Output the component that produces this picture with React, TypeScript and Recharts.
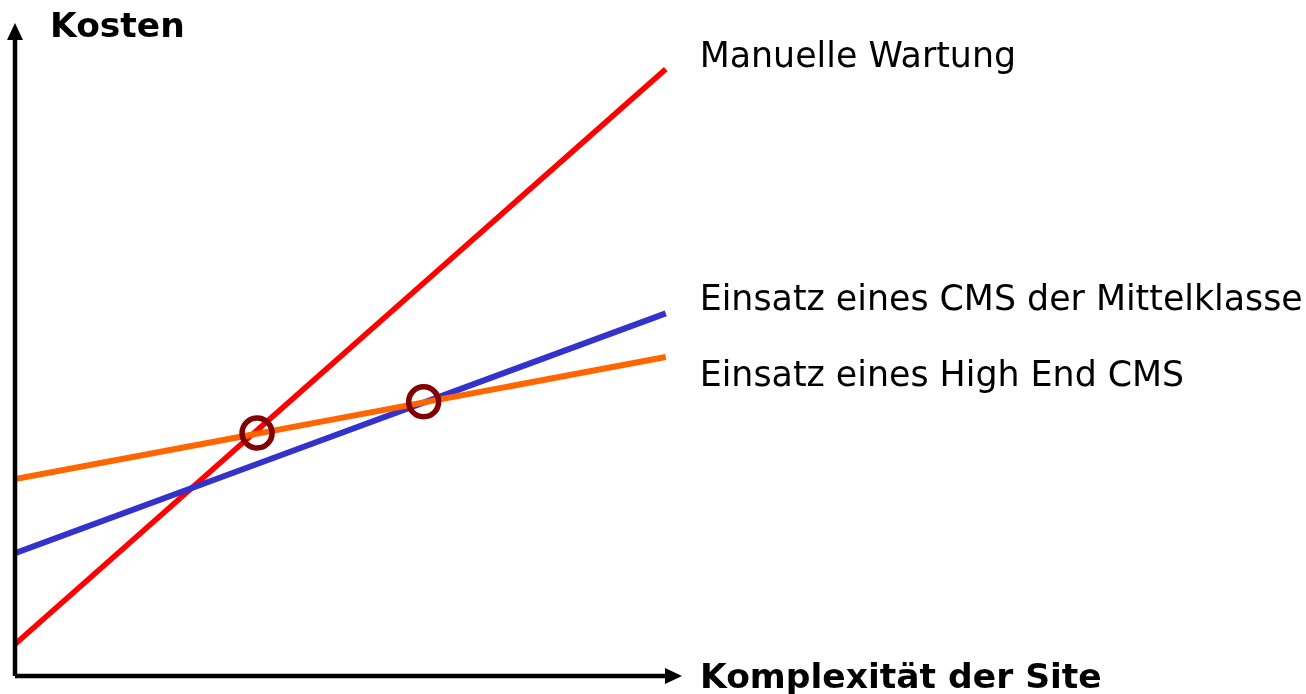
import { ComposedChart, Line, Scatter, XAxis, YAxis, ReferenceLine, Customized } from 'recharts'

// Komplexität (0..100) -> Kosten (0..100)
const complexity = [0, 100]
const manualCosts = [4.9, 93.4]
const midCmsCosts = [18.9, 55.8]
const highEndCosts = [30.3, 49.1]

const seriesNames = ['Manuelle Wartung', 'Einsatz eines CMS der Mittelklasse', 'Einsatz eines High End CMS']

// Break-even-Punkte
const breakEvenX = [37.2, 62.8]
const breakEvenY = [37.4, 42.2]

const xMax = 102.5
const yMax = 100.5

const toPoints = (ys: number[]) => complexity.map((x, i) => ({ x, y: ys[i] }))
const breakEven = breakEvenX.map((x, i) => ({ x, y: breakEvenY[i] }))

const font = '"DejaVu Sans", Verdana, sans-serif'

// Achse mit Pfeilspitze
const ArrowAxis = (props: any) => {
  const { x1, y1, x2, y2 } = props
  const dx = x2 - x1
  const dy = y2 - y1
  const len = Math.sqrt(dx * dx + dy * dy) || 1
  const ux = dx / len
  const uy = dy / len
  const head = 17
  const half = 8
  const bx = x2 - ux * head
  const by = y2 - uy * head
  return (
    <g>
      <line x1={x1} y1={y1} x2={bx + ux * 2} y2={by + uy * 2} stroke="#000" strokeWidth={4.5} />
      <polygon
        points={`${x2},${y2} ${bx - uy * half},${by + ux * half} ${bx + uy * half},${by - ux * half}`}
        fill="#000"
      />
    </g>
  )
}

const makeLabel = (name: string, dy: number) => (props: any) => {
  if (props.index !== complexity.length - 1) return null
  return (
    <text x={props.x + 34} y={props.y + dy} fontSize={34.8} fontFamily={font} fill="#000" dominantBaseline="central">
      {name}
    </text>
  )
}

const BreakEvenCircle = (props: any) => (
  <circle cx={props.cx} cy={props.cy} r={15} fill="none" stroke="#800000" strokeWidth={5.5} />
)

export default function App() {
  return (
    <div style={{ position: 'fixed', left: 0, top: 0 }}>
      <ComposedChart width={1306} height={694} margin={{ top: 23, right: 624, bottom: 18, left: 15 }}>
        <XAxis type="number" dataKey="x" domain={[0, xMax]} hide allowDataOverflow />
        <YAxis type="number" dataKey="y" domain={[0, yMax]} hide allowDataOverflow />
        <Line
          data={toPoints(manualCosts)}
          dataKey="y"
          stroke="#ff0000"
          strokeWidth={5.5}
          dot={false}
          isAnimationActive={false}
          label={makeLabel(seriesNames[0], -14)}
        />
        <Line
          data={toPoints(midCmsCosts)}
          dataKey="y"
          stroke="#3333cc"
          strokeWidth={6}
          dot={false}
          isAnimationActive={false}
          label={makeLabel(seriesNames[1], -15)}
        />
        <Line
          data={toPoints(highEndCosts)}
          dataKey="y"
          stroke="#ff6600"
          strokeWidth={6}
          dot={false}
          isAnimationActive={false}
          label={makeLabel(seriesNames[2], 17)}
        />
        <Scatter data={breakEven} dataKey="y" shape={BreakEvenCircle} isAnimationActive={false} />
        <ReferenceLine segment={[{ x: 0, y: 0 }, { x: xMax, y: 0 }]} ifOverflow="visible" shape={ArrowAxis} />
        <ReferenceLine segment={[{ x: 0, y: 0 }, { x: 0, y: yMax }]} ifOverflow="visible" shape={ArrowAxis} />
        <Customized
          component={() => (
            <g fontFamily={font} fontWeight="bold" fontSize={34.5} fill="#000">
              <text x={50} y={25} dominantBaseline="central">Kosten</text>
              <text x={700} y={676} dominantBaseline="central">Komplexität der Site</text>
            </g>
          )}
        />
      </ComposedChart>
    </div>
  )
}
